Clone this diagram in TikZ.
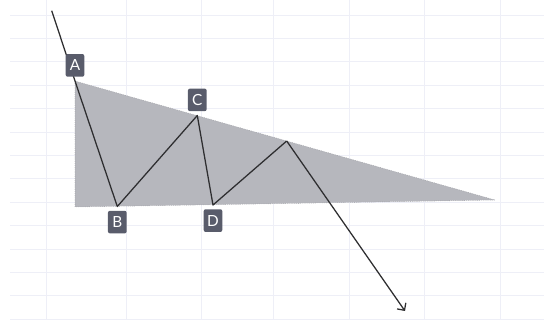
\documentclass[tikz,border=0pt]{standalone}
\usepackage{fontspec}
\setmainfont{Lato}
\usepackage{xcolor}
\usetikzlibrary{positioning,arrows.meta}
\definecolor{gridline}{HTML}{EEEFF7}
\definecolor{wedge}{HTML}{B6B7BD}
\definecolor{tagfill}{HTML}{595C6B}
\definecolor{raycol}{HTML}{2E2E30}

\begin{document}
\begin{tikzpicture}[x=0.75pt, y=-0.75pt,
  font=\fontsize{11.5}{13}\selectfont,
  lbl/.style={fill=tagfill, text=white, rounded corners=1.5pt,
              minimum width=14pt, minimum height=17pt, inner sep=0pt},
  ray/.style={draw=raycol, line width=0.95pt, line join=round}]
\useasboundingbox (0,0) rectangle (544,320);
\foreach \y in {15,38.4,...,320}
  \draw[gridline, line width=0.6pt] (10,\y) -- (544,\y);
\foreach \x in {46.5,126.5,201,273,349,424.5,500.5}
  \draw[gridline, line width=0.6pt] (\x,0) -- (\x,320);
\coordinate (start) at (51.7,10.7);
\coordinate (pA) at (75,81);
\coordinate (pB) at (117.3,206.5);
\coordinate (pC) at (197.3,115.5);
\coordinate (pD) at (213,205);
\coordinate (pE) at (286.7,141);
\coordinate (tip) at (495,200);
\coordinate (base) at (75,207);
\coordinate (stop) at (405,311);
\fill[wedge, draw=wedge!85!black, densely dotted, line width=0.4pt]
  (pA) -- (tip) -- (base) -- cycle;
\draw[ray] (start) -- (pA) -- (pB) -- (pC) -- (pD) -- (pE);
\draw[ray, -{Straight Barb[length=4pt, width=8pt]}] (pE) -- (stop);
\node[lbl, above=3pt of pA] (A) {A};
\node[lbl, below=3pt of pB] (B) {B};
\node[lbl, above=3pt of pC] (C) {C};
\node[lbl, below=3pt of pD] (D) {D};
\end{tikzpicture}
\end{document}
